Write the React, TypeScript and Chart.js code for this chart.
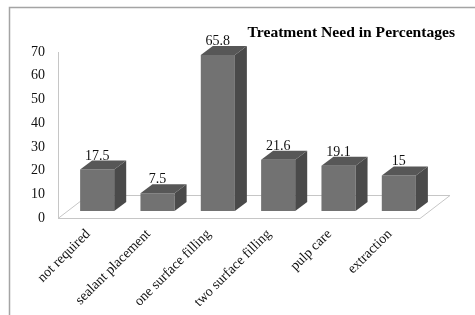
import React, { useEffect, useRef } from 'react';
import { Chart, registerables } from 'chart.js';

Chart.register(...registerables);

const categories = ['not required', 'sealant placement', 'one surface filling', 'two surface filling', 'pulp care', 'extraction'];
const values = [17.5, 7.5, 65.8, 21.6, 19.1, 15];
const valueLabels = ['17.5', '7.5', '65.8', '21.6', '19.1', '15'];
const yMin = 0;
const yMax = 70;
const yStep = 10;
const title = 'Treatment Need in Percentages';

const FONT = "'Liberation Serif', 'Times New Roman', serif";
const SHIFT_X = 9;
const SHIFT_Y = 7;
const DEPTH_X = 12;
const DEPTH_Y = 9;
const FLOOR_X = 30;
const FLOOR_Y = 23;

const threeD = {
  id: 'threeD',
  beforeDraw(chart: any) {
    const ctx = chart.ctx;
    ctx.save();
    ctx.strokeStyle = '#a4a4a4';
    ctx.lineWidth = 1.5;
    ctx.beginPath();
    ctx.moveTo(9.5, 320);
    ctx.lineTo(9.5, 7.5);
    ctx.lineTo(480, 7.5);
    ctx.stroke();
    ctx.restore();
  },
  beforeDatasetsDraw(chart: any) {
    const { ctx, chartArea } = chart;
    const { left, right, top, bottom } = chartArea;
    ctx.save();
    ctx.strokeStyle = '#c6c6c6';
    ctx.lineWidth = 1;
    ctx.beginPath();
    ctx.moveTo(left, bottom + 0.5);
    ctx.lineTo(right, bottom + 0.5);
    ctx.lineTo(right + FLOOR_X, bottom - FLOOR_Y + 0.5);
    ctx.lineTo(left + FLOOR_X, bottom - FLOOR_Y + 0.5);
    ctx.closePath();
    ctx.stroke();
    ctx.beginPath();
    ctx.moveTo(left + 0.5, top);
    ctx.lineTo(left + 0.5, bottom);
    ctx.stroke();
    ctx.restore();
    ctx.save();
    ctx.translate(SHIFT_X, -SHIFT_Y);
  },
  afterDatasetsDraw(chart: any) {
    const ctx = chart.ctx;
    const meta = chart.getDatasetMeta(0);
    meta.data.forEach((bar: any, i: number) => {
      const { x, y, base, width } = bar.getProps(['x', 'y', 'base', 'width'], true);
      const l = x - width / 2;
      const r = x + width / 2;
      ctx.fillStyle = '#4a4a4a';
      ctx.beginPath();
      ctx.moveTo(r, y);
      ctx.lineTo(r + DEPTH_X, y - DEPTH_Y);
      ctx.lineTo(r + DEPTH_X, base - DEPTH_Y);
      ctx.lineTo(r, base);
      ctx.closePath();
      ctx.fill();
      ctx.fillStyle = '#575757';
      ctx.beginPath();
      ctx.moveTo(l, y);
      ctx.lineTo(l + DEPTH_X, y - DEPTH_Y);
      ctx.lineTo(r + DEPTH_X, y - DEPTH_Y);
      ctx.lineTo(r, y);
      ctx.closePath();
      ctx.fill();
      ctx.fillStyle = '#111';
      ctx.font = `14px ${FONT}`;
      ctx.textAlign = 'center';
      ctx.textBaseline = 'alphabetic';
      ctx.fillText(valueLabels[i], x, y - DEPTH_Y - 1);
    });
    ctx.restore();
  },
  afterDraw(chart: any) {
    const ctx = chart.ctx;
    ctx.save();
    ctx.fillStyle = '#000';
    ctx.font = `bold 15.6px ${FONT}`;
    ctx.textAlign = 'right';
    ctx.textBaseline = 'middle';
    ctx.fillText(title, 455, 33);
    ctx.restore();
  },
};

export default function App() {
  const ref = useRef<HTMLCanvasElement>(null);
  useEffect(() => {
    if (!ref.current) return;
    const chart = new Chart(ref.current, {
      type: 'bar',
      data: {
        labels: categories,
        datasets: [
          {
            data: values,
            backgroundColor: '#727272',
            borderWidth: 0,
            barPercentage: 0.565,
            categoryPercentage: 1,
            clip: false as any,
          },
        ],
      },
      options: {
        responsive: false,
        animation: false,
        events: [],
        layout: { padding: { top: 52, right: 55, left: 0, bottom: 0 } },
        plugins: { legend: { display: false }, tooltip: { enabled: false }, title: { display: false } },
        scales: {
          x: {
            grid: { display: false, drawTicks: false },
            border: { display: false },
            ticks: {
              minRotation: 45,
              maxRotation: 45,
              autoSkip: false,
              padding: 8,
              color: '#111',
              font: { size: 14, family: FONT },
            },
            afterFit: (s: any) => {
              s.height = 97;
            },
          },
          y: {
            min: yMin,
            max: yMax,
            grid: { display: false, drawTicks: false },
            border: { display: false },
            ticks: {
              stepSize: yStep,
              padding: 13,
              color: '#111',
              font: { size: 14, family: FONT },
            },
            afterFit: (s: any) => {
              s.width = 58;
            },
          },
        },
      },
      plugins: [threeD],
    });
    return () => chart.destroy();
  }, []);
  return (
    <div style={{ position: 'fixed', left: 0, top: 0, width: 475, height: 315, background: '#fff' }}>
      <canvas ref={ref} width={475} height={315} style={{ display: 'block' }} />
    </div>
  );
}
